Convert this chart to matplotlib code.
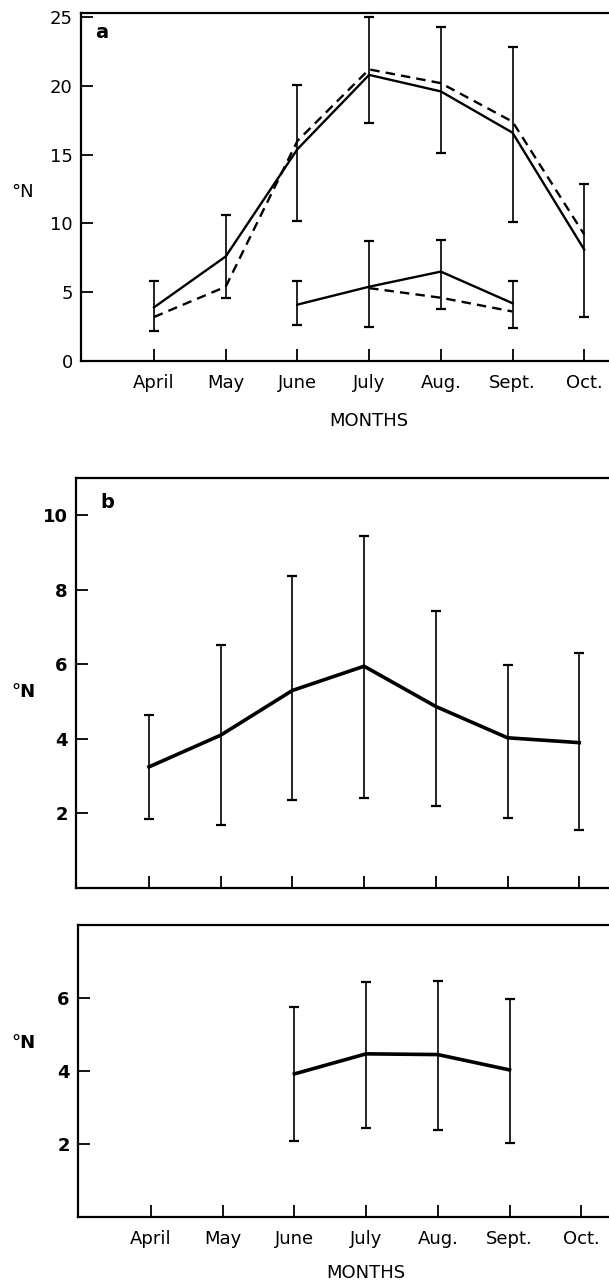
import matplotlib
matplotlib.use("Agg")
import matplotlib.pyplot as plt
import numpy as np
from matplotlib.transforms import blended_transform_factory

plt.rcParams['font.family'] = ['DejaVu Sans']

months = ["April", "May", "June", "July", "Aug.", "Sept.", "Oct."]
x_all = np.arange(len(months))

# ---- Panel a : upper pair of curves (April-Oct) ----
a_upper_solid = [3.9, 7.6, 15.4, 20.8, 19.6, 16.6, 8.1]
a_upper_dashed = [3.2, 5.4, 16.0, 21.2, 20.2, 17.4, 9.2]
a_upper_lo = [2.2, 4.6, 10.2, 17.3, 15.1, 10.1, 3.2]
a_upper_hi = [5.8, 10.6, 20.1, 25.0, 24.3, 22.8, 12.9]

# ---- Panel a : lower pair of curves (June-Sept) ----
a_lower_months = [2, 3, 4, 5]
a_lower_solid = [4.1, 5.4, 6.5, 4.2]
a_lower_dashed_months = [3, 4, 5]
a_lower_dashed = [5.3, 4.6, 3.6]
a_lower_lo = [2.6, 2.5, 3.8, 2.4]
a_lower_hi = [5.8, 8.7, 8.8, 5.8]

# ---- Panel b (April-Oct) ----
b_vals = [3.25, 4.1, 5.3, 5.95, 4.87, 4.03, 3.9]
b_lo = [1.85, 1.7, 2.36, 2.42, 2.2, 1.89, 1.56]
b_hi = [4.65, 6.52, 8.37, 9.45, 7.44, 5.98, 6.31]

# ---- Panel c (June-Sept) ----
c_months = [2, 3, 4, 5]
c_vals = [3.92, 4.47, 4.45, 4.03]
c_lo = [2.09, 2.43, 2.38, 2.02]
c_hi = [5.74, 6.45, 6.47, 5.97]

W, H = 609, 1282
fig = plt.figure(figsize=(W / 100, H / 100), dpi=100)

MONTH_SP = 71.7
def make_axes(left_px, top_px, bottom_px):
    right_px = 620
    ax = fig.add_axes([left_px / W, 1 - bottom_px / H,
                       (right_px - left_px) / W, (bottom_px - top_px) / H])
    ax.set_xlim(-73 / MONTH_SP, (right_px - left_px - 73) / MONTH_SP)
    for s in ['left', 'bottom', 'top']:
        ax.spines[s].set_linewidth(1.6)
    ax.spines['right'].set_visible(False)
    ax.tick_params(direction='in', length=8.5, width=1.3, labelsize=13)
    ax.tick_params(axis='y', pad=6)
    ax.tick_params(axis='x', pad=9)
    ax.set_xticks(x_all)
    return ax

def errbars(ax, xs, ys, lo, hi):
    ys = np.asarray(ys); lo = np.asarray(lo); hi = np.asarray(hi)
    ax.errorbar(xs, ys, yerr=[ys - lo, hi - ys], fmt='none', ecolor='black',
                elinewidth=1.2, capsize=3.6, capthick=1.6)

# ---------------- Panel a ----------------
axa = make_axes(81, 13, 361)
axa.set_ylim(0, 25.3)
axa.set_yticks([0, 5, 10, 15, 20, 25])
axa.set_xticklabels(months)
axa.plot(x_all, a_upper_solid, color='black', lw=1.7)
axa.plot(x_all, a_upper_dashed, color='black', lw=1.7, linestyle=(0, (4, 2.6)))
errbars(axa, x_all, a_upper_solid, a_upper_lo, a_upper_hi)
axa.plot(a_lower_months, a_lower_solid, color='black', lw=1.7)
axa.plot(a_lower_dashed_months, a_lower_dashed, color='black', lw=1.7, linestyle=(0, (4, 2.6)))
errbars(axa, a_lower_months, a_lower_solid, a_lower_lo, a_lower_hi)
axa.text(102 / W, 1 - 33 / H, 'a', transform=fig.transFigure, fontsize=14,
         fontweight='bold', ha='center', va='center')
fig.text(23 / W, 1 - 192 / H, '°N', fontsize=13, ha='center', va='center')
tr = blended_transform_factory(axa.transData, axa.transAxes)
axa.text(3, (361 - 421) / (361 - 13), 'MONTHS', transform=tr, fontsize=13,
         ha='center', va='center')

# ---------------- Panel b ----------------
axb = make_axes(76, 478, 888)
axb.set_ylim(0, 11)
axb.set_yticks([2, 4, 6, 8, 10])
axb.set_xticklabels([])
for lab in axb.get_yticklabels():
    lab.set_fontweight('bold')
axb.plot(x_all, b_vals, color='black', lw=2.6, solid_joinstyle='round')
errbars(axb, x_all, b_vals, b_lo, b_hi)
fig.text(107 / W, 1 - 503 / H, 'b', fontsize=14, fontweight='bold',
         ha='center', va='center')
fig.text(23 / W, 1 - 692 / H, '°N', fontsize=13, fontweight='bold',
         ha='center', va='center')

# ---------------- Panel c ----------------
axc = make_axes(78, 925, 1217)
axc.set_ylim(0, 8)
axc.set_yticks([2, 4, 6])
axc.set_xticklabels(months)
for lab in axc.get_yticklabels():
    lab.set_fontweight('bold')
axc.plot(c_months, c_vals, color='black', lw=2.6, solid_joinstyle='round')
errbars(axc, c_months, c_vals, c_lo, c_hi)
fig.text(23 / W, 1 - 1043 / H, '°N', fontsize=13, fontweight='bold',
         ha='center', va='center')
trc = blended_transform_factory(axc.transData, axc.transAxes)
axc.text(3, (1217 - 1273) / (1217 - 925), 'MONTHS', transform=trc, fontsize=13,
         ha='center', va='center')

fig.savefig('out.png', dpi=100)
